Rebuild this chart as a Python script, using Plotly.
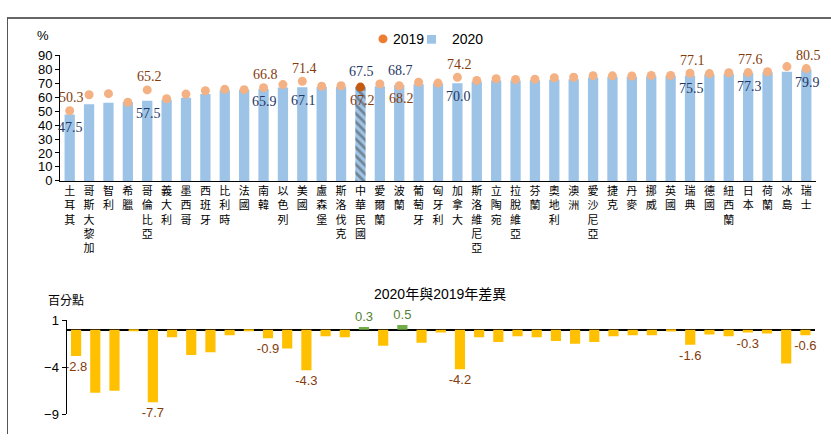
import plotly.graph_objects as go

countries = ["土耳其", "哥斯大黎加", "智利", "希臘", "哥倫比亞", "義大利", "墨西哥", "西班牙",
             "比利時", "法國", "南韓", "以色列", "美國", "盧森堡", "斯洛伐克", "中華民國",
             "愛爾蘭", "波蘭", "葡萄牙", "匈牙利", "加拿大", "斯洛維尼亞", "立陶宛", "拉脫維亞",
             "芬蘭", "奧地利", "澳洲", "愛沙尼亞", "捷克", "丹麥", "挪威", "英國", "瑞典",
             "德國", "紐西蘭", "日本", "荷蘭", "冰島", "瑞士"]
v2020 = [47.5, 55.0, 56.0, 56.3, 57.5, 58.1, 59.5, 62.2, 65.0, 65.3, 65.9, 67.0, 67.1, 67.2,
         67.4, 67.5, 67.8, 68.7, 69.3, 69.8, 70.0, 71.2, 71.9, 72.0, 72.1, 72.7, 72.8, 74.1,
         74.6, 74.6, 75.0, 75.4, 75.5, 76.4, 76.8, 77.3, 77.8, 78.3, 79.9]
v2019 = [50.3, 61.7, 62.5, 56.4, 65.2, 58.9, 62.2, 64.6, 65.6, 65.4, 66.8, 69.0, 71.4, 67.9,
         68.2, 67.2, 69.5, 68.2, 70.7, 70.1, 74.2, 72.0, 73.2, 72.7, 72.9, 73.9, 74.3, 75.4,
         75.3, 75.2, 75.6, 75.6, 77.1, 76.9, 77.5, 77.6, 78.2, 81.9, 80.5]
diff = [-2.8, -6.7, -6.5, -0.1, -7.7, -0.8, -2.7, -2.4, -0.6, -0.1, -0.9, -2.0, -4.3, -0.7,
        -0.8, 0.3, -1.7, 0.5, -1.4, -0.3, -4.2, -0.8, -1.3, -0.7, -0.8, -1.2, -1.5, -1.3,
        -0.7, -0.6, -0.6, -0.2, -1.6, -0.5, -0.7, -0.3, -0.4, -3.6, -0.6]
labeled = [0, 4, 10, 12, 15, 17, 20, 32, 35, 38]
flipped = [15, 17]          # 2020 label above, 2019 label below
highlight = 15              # 中華民國
top_ticks = list(range(0, 91, 10))
bottom_ticks = [1, -4, -9]

W, H = 831, 442
def px(x):
    return x / W
def py(y):
    return 1 - y / H

BLUE = "#9DC3E6"
DOT = "#F4B183"
BROWN = "#843C0C"
NAVY = "#1F3864"
SERIF = "Liberation Serif, Times New Roman, serif"
SANS = "Liberation Sans, Arial, sans-serif"
CJK = "Noto Sans CJK TC, sans-serif"

fig = go.Figure()

bar_colors = [BLUE] * len(countries)
pattern_shapes = ["\\" if i == highlight else "" for i in range(len(countries))]
fig.add_trace(go.Bar(
    x=countries, y=v2020, xaxis="x", yaxis="y", showlegend=False,
    marker=dict(color=bar_colors, line=dict(width=0),
                pattern=dict(shape=pattern_shapes, fgcolor="#A9CBEA", bgcolor="#EEF5FB",
                             size=6, solidity=0.45)),
    hoverinfo="x+y", name="2020"))

dot_colors = [("#C55A11" if i == highlight else DOT) for i in range(len(countries))]
fig.add_trace(go.Scatter(
    x=countries, y=v2019, xaxis="x", yaxis="y", mode="markers", showlegend=False,
    marker=dict(color=dot_colors, size=9), name="2019"))

diff_colors = ["#70AD47" if d > 0 else "#FFC000" for d in diff]
diff_text = [(f"{diff[i]:.1f}" if i in labeled else "") for i in range(len(countries))]
diff_text_colors = [("#548235" if d > 0 else BROWN) for d in diff]
fig.add_trace(go.Bar(
    x=countries, y=diff, xaxis="x2", yaxis="y2", showlegend=False,
    marker=dict(color=diff_colors, line=dict(width=0)),
    text=diff_text, textposition="outside", constraintext="none", cliponaxis=False,
    textfont=dict(family=SANS, size=13, color=diff_text_colors),
    name="差異"))

annotations = []
# value labels, top panel
for i in labeled:
    up = i not in flipped
    annotations.append(dict(
        x=countries[i], y=v2019[i], xref="x", yref="y", text=f"{v2019[i]:.1f}",
        showarrow=False, yshift=13 if up else -13, xshift=2,
        xanchor="center", yanchor="middle",
        font=dict(family=SERIF, size=14, color=BROWN)))
    annotations.append(dict(
        x=countries[i], y=v2020[i], xref="x", yref="y", text=f"{v2020[i]:.1f}",
        showarrow=False, yshift=-13 if up else 15, xshift=1,
        xanchor="center", yanchor="middle",
        font=dict(family=SERIF, size=14, color=NAVY)))

def note(x, y, text, size, family, xanchor="center"):
    return dict(x=px(x), y=py(y), xref="paper", yref="paper", text=text, showarrow=False,
                xanchor=xanchor, yanchor="middle",
                font=dict(family=family, size=size, color="#000"))

annotations += [
    note(43, 30, "%", 13, SANS),
    note(66, 302.5, "百分點", 12, CJK),
    note(439.5, 297, "2020年與2019年差異", 14, SANS + ", " + CJK),
    note(391, 33, "2019", 14, SANS, "left"),
    note(450, 33, "2020", 14, SANS, "left"),
]

shapes = [
    dict(type="circle", xref="paper", yref="paper", x0=px(378.5), x1=px(387.5),
         y0=py(37.5), y1=py(28.5), fillcolor="#ED7D31", line=dict(width=0)),
    dict(type="rect", xref="paper", yref="paper", x0=px(427), x1=px(436),
         y0=py(38), y1=py(29), fillcolor=BLUE, line=dict(width=0)),
    dict(type="line", xref="paper", yref="paper", x0=px(7), x1=1, y0=py(11.5), y1=py(11.5),
         line=dict(color="#333", width=1.5)),
    dict(type="line", xref="paper", yref="paper", x0=px(7.5), x1=px(7.5), y0=py(11), y1=0,
         line=dict(color="#555", width=1)),
]

tick_text = ["<br>".join(name) for name in countries]

fig.update_layout(
    width=W, height=H, margin=dict(l=0, r=0, t=0, b=0),
    paper_bgcolor="white", plot_bgcolor="rgba(0,0,0,0)",
    barmode="overlay", bargap=0.47,
    annotations=annotations, shapes=shapes,
    xaxis=dict(domain=[px(60), px(816)], type="category", range=[-0.5, 38.5],
               tickmode="array", tickvals=countries, ticktext=tick_text, tickangle=0,
               ticks="", ticklabelstandoff=0,
               tickfont=dict(family=CJK, size=11, color="#000"),
               showgrid=False, zeroline=False,
               showline=True, linecolor="#000", linewidth=1, anchor="y"),
    yaxis=dict(domain=[py(180), py(50)], range=[0, 90], tickvals=top_ticks,
               ticks="outside", ticklen=4, tickcolor="#000", showgrid=False, zeroline=False,
               showline=True, linecolor="#000", linewidth=1, anchor="x",
               tickfont=dict(family=SANS, size=13, color="#000")),
    xaxis2=dict(domain=[px(66.5), px(815)], type="category", range=[-0.5, 38.5],
                showticklabels=False, ticks="", showgrid=False, zeroline=False,
                showline=False, anchor="y2"),
    yaxis2=dict(domain=[py(421.7), py(324.3)], range=[-9, 1], tickvals=bottom_ticks,
                ticks="outside", ticklen=4, tickcolor="#000", showgrid=False,
                zeroline=True, zerolinecolor="#000", zerolinewidth=1.5,
                showline=True, linecolor="#000", linewidth=1, anchor="x2",
                tickfont=dict(family=SANS, size=13, color="#000")),
)

fig.write_html("out.html", config={"displayModeBar": False},
               post_script="document.body.style.margin='0';document.body.style.padding='0';")
